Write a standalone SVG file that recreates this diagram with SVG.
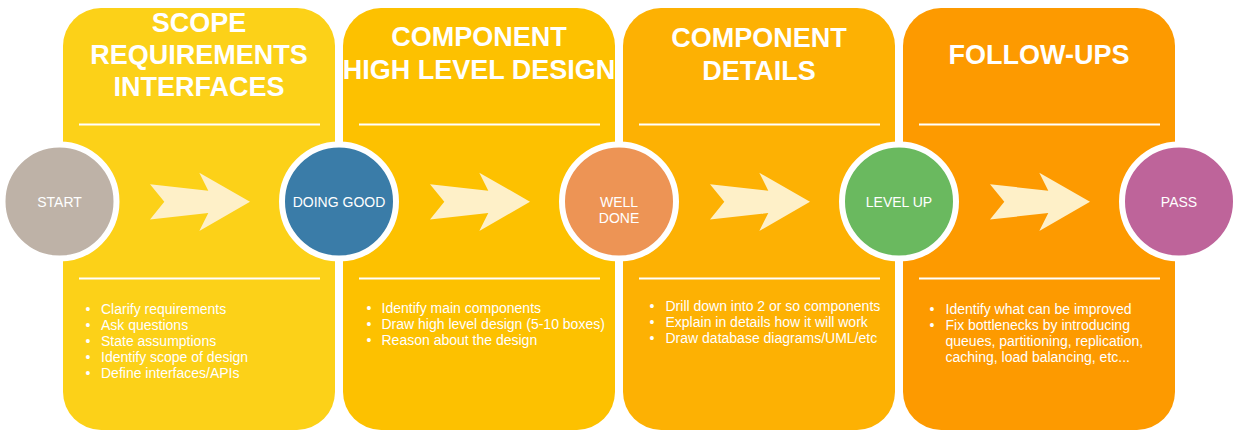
<svg xmlns="http://www.w3.org/2000/svg" width="1241" height="439" viewBox="0 0 1241 439">
<defs>
<style>
.title{font-family:"Liberation Sans",Arial,sans-serif;font-weight:bold;font-size:27px;fill:#fff;text-anchor:middle}
.lbl{font-family:"Liberation Sans",Arial,sans-serif;font-size:14px;fill:#fff;text-anchor:middle}
.item{font-family:"Liberation Sans",Arial,sans-serif;font-size:14px;fill:#fff}
.sep{stroke:#fff;stroke-width:2}
.ring{stroke:#fff;stroke-width:6}
.arrow{fill:#FEF0C8}
</style>
<path id="arw" d="M150,184.3 L208.3,190.7 L199.3,172.7 L250,201.7 L199.3,231 L208.3,213 L150,219.5 L164.3,201.7 Z"/>
</defs>
<rect width="1241" height="439" fill="#fff"/>

<g id="panel-scope">
<rect x="63" y="8" width="272" height="422" rx="38" fill="#FCD118"/>
<text class="title" x="199" y="31.5">SCOPE</text>
<text class="title" x="199" y="64">REQUIREMENTS</text>
<text class="title" x="199" y="96">INTERFACES</text>
<line class="sep" x1="79" y1="124.5" x2="320" y2="124.5"/>
<line class="sep" x1="79" y1="278.5" x2="320" y2="278.5"/>
<g class="item">
<text x="88" y="313.5" text-anchor="middle">•</text><text x="101" y="313.5">Clarify requirements</text>
<text x="88" y="329.5" text-anchor="middle">•</text><text x="101" y="329.5">Ask questions</text>
<text x="88" y="345.5" text-anchor="middle">•</text><text x="101" y="345.5">State assumptions</text>
<text x="88" y="361.5" text-anchor="middle">•</text><text x="101" y="361.5">Identify scope of design</text>
<text x="88" y="377.5" text-anchor="middle">•</text><text x="101" y="377.5">Define interfaces/APIs</text>
</g>
</g>

<g id="panel-hld">
<rect x="343" y="8" width="272" height="422" rx="38" fill="#FDC100"/>
<text class="title" x="479" y="46">COMPONENT</text>
<text class="title" x="479" y="78.5">HIGH LEVEL DESIGN</text>
<line class="sep" x1="359" y1="124.5" x2="600" y2="124.5"/>
<line class="sep" x1="359" y1="278.5" x2="600" y2="278.5"/>
<g class="item">
<text x="369" y="313" text-anchor="middle">•</text><text x="381.5" y="313">Identify main components</text>
<text x="369" y="329" text-anchor="middle">•</text><text x="381.5" y="329">Draw high level design (5-10 boxes)</text>
<text x="369" y="345" text-anchor="middle">•</text><text x="381.5" y="345">Reason about the design</text>
</g>
</g>

<g id="panel-details">
<rect x="623" y="8" width="272" height="422" rx="38" fill="#FDB103"/>
<text class="title" x="759" y="47">COMPONENT</text>
<text class="title" x="759" y="79.5">DETAILS</text>
<line class="sep" x1="639" y1="124.5" x2="880" y2="124.5"/>
<line class="sep" x1="639" y1="278.5" x2="880" y2="278.5"/>
<g class="item">
<text x="652" y="311" text-anchor="middle">•</text><text x="665.5" y="311">Drill down into 2 or so components</text>
<text x="652" y="327" text-anchor="middle">•</text><text x="665.5" y="327">Explain in details how it will work</text>
<text x="652" y="343" text-anchor="middle">•</text><text x="665.5" y="343">Draw database diagrams/UML/etc</text>
</g>
</g>

<g id="panel-followups">
<rect x="903" y="8" width="272" height="422" rx="38" fill="#FD9A00"/>
<text class="title" x="1039" y="63.5">FOLLOW-UPS</text>
<line class="sep" x1="919" y1="124.5" x2="1160" y2="124.5"/>
<line class="sep" x1="919" y1="278.5" x2="1160" y2="278.5"/>
<g class="item">
<text x="932" y="313.5" text-anchor="middle">•</text><text x="945.5" y="313.5">Identify what can be improved</text>
<text x="932" y="329.5" text-anchor="middle">•</text><text x="945.5" y="329.5">Fix bottlenecks by introducing</text>
<text x="945.5" y="345.5">queues, partitioning, replication,</text>
<text x="945.5" y="361.5">caching, load balancing, etc...</text>
</g>
</g>

<g id="connectors">
<use href="#arw" class="arrow"/>
<use href="#arw" class="arrow" x="280"/>
<use href="#arw" class="arrow" x="560"/>
<use href="#arw" class="arrow" x="840"/>
</g>

<g id="node-start">
<circle class="ring" cx="59.5" cy="201.5" r="57" fill="#BEB2A7"/>
<text class="lbl" x="59.5" y="206.7">START</text>
</g>
<g id="node-doing-good">
<circle class="ring" cx="339" cy="201.5" r="57" fill="#3A7CA8"/>
<text class="lbl" x="339" y="206.7">DOING GOOD</text>
</g>
<g id="node-well-done">
<circle class="ring" cx="619" cy="201.5" r="57" fill="#ED9455"/>
<text class="lbl" x="619" y="206.7">WELL</text>
<text class="lbl" x="619" y="222.7">DONE</text>
</g>
<g id="node-level-up">
<circle class="ring" cx="899" cy="201.5" r="57" fill="#6AB95F"/>
<text class="lbl" x="899" y="206.7">LEVEL UP</text>
</g>
<g id="node-pass">
<circle class="ring" cx="1179" cy="201.5" r="57" fill="#BE649A"/>
<text class="lbl" x="1179" y="206.7">PASS</text>
</g>
</svg>
